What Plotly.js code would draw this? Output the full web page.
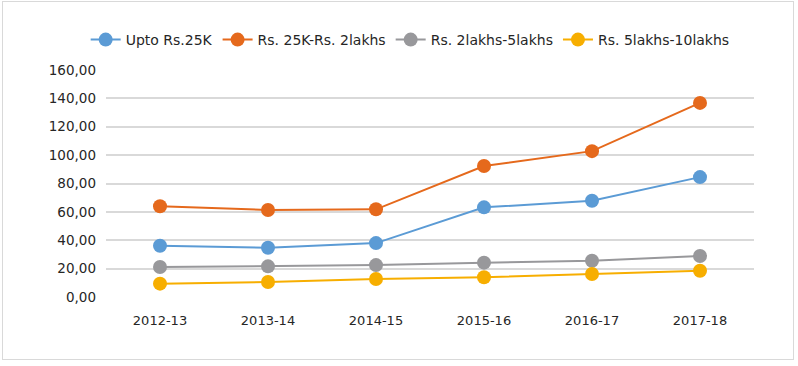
<!DOCTYPE html>
<html>
<head>
<meta charset="utf-8">
<script src="https://cdn.plot.ly/plotly-3.0.1.min.js"></script>
<style>
html,body{margin:0;padding:0;background:#fff;}
#frame{position:absolute;left:2px;top:1px;width:792px;height:359px;border:1px solid #d9d9d9;box-sizing:border-box;}
#chart{position:absolute;left:0;top:0;width:798px;height:366px;}
</style>
</head>
<body>
<div id="frame"></div>
<div id="chart"></div>
<script>
const years = ["2012-13","2013-14","2014-15","2015-16","2016-17","2017-18"];
const upto25k = [36.1, 34.7, 38.0, 63.2, 67.8, 84.5];
const rs25kTo2lakhs = [64.0, 61.3, 61.8, 92.3, 102.8, 136.8];
const rs2to5lakhs = [21.1, 21.6, 22.5, 24.2, 25.6, 28.9];
const rs5to10lakhs = [9.4, 10.6, 12.7, 13.9, 16.2, 18.5];
const seriesNames = ["Upto Rs.25K","Rs. 25K-Rs. 2lakhs","Rs. 2lakhs-5lakhs","Rs. 5lakhs-10lakhs"];
const yTicks = [0,20,40,60,80,100,120,140,160];
const yTickLabels = ["0,00","20,00","40,00","60,00","80,00","100,00","120,00","140,00","160,00"];

const colors = ["#5B9BD5","#E5691C","#98989B","#F7AE00"];
const seriesData = [upto25k, rs25kTo2lakhs, rs2to5lakhs, rs5to10lakhs];

const traces = seriesData.map((d,i)=>({
  type:'scatter', mode:'lines+markers', x:years, y:d, name:seriesNames[i],
  line:{color:colors[i], width:2},
  marker:{color:colors[i], size:14}
}));

const layout = {
  width:798, height:366,
  margin:{l:106, r:44, t:70, b:69},
  paper_bgcolor:'rgba(0,0,0,0)', plot_bgcolor:'rgba(0,0,0,0)',
  font:{family:'"DejaVu Sans", sans-serif', size:13, color:'#262626'},
  showlegend:true,
  legend:{orientation:'h', xref:'container', yref:'container', x:0.514, xanchor:'center',
    y:1-40/366, yanchor:'middle',
    font:{size:14, color:'#262626'}, itemwidth:30, tracegroupgap:0},
  xaxis:{type:'category', range:[-0.5,5.5], showgrid:false, zeroline:false, showline:false,
    ticks:'', ticklabelstandoff:14, tickfont:{size:13}},
  yaxis:{range:[0,160], tickvals:yTicks, ticktext:yTickLabels, showgrid:true,
    gridcolor:'#d9d9d9', gridwidth:2, zeroline:false, showline:false, ticks:'',
    ticklabelstandoff:9, tickfont:{size:13.5}}
};
Plotly.newPlot('chart', traces, layout, {displayModeBar:false, staticPlot:true});
</script>
</body>
</html>
